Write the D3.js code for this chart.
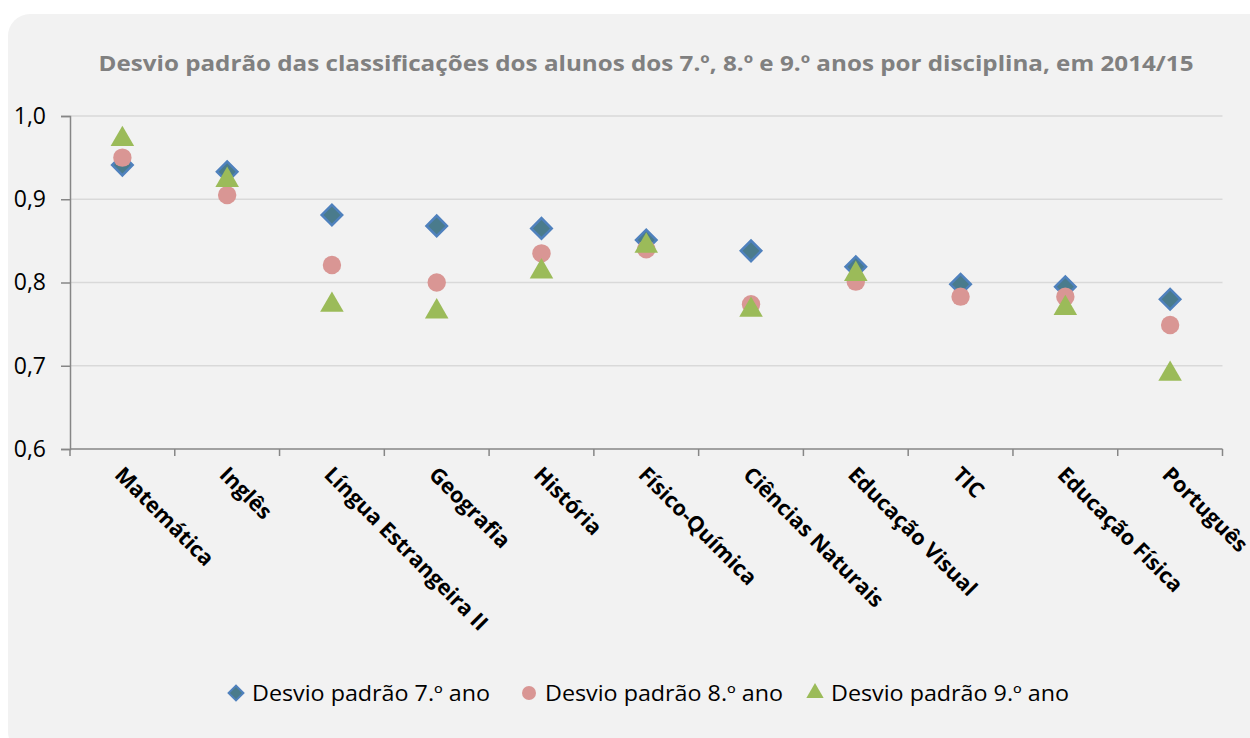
<!DOCTYPE html>
<html><head><meta charset="utf-8">
<script src="https://cdn.jsdelivr.net/npm/d3@7"></script>
<style>html,body{margin:0;padding:0;background:#fff;}svg{display:block;}</style>
</head><body>
<script>
const categories = ["Matemática","Inglês","Língua Estrangeira II","Geografia","História","Físico-Química","Ciências Naturais","Educação Visual","TIC","Educação Física","Português"];
const ano7 = [0.941,0.933,0.881,0.868,0.865,0.851,0.838,0.819,0.798,0.795,0.780];
const ano8 = [0.950,0.905,0.821,0.800,0.835,0.840,0.774,0.801,0.783,0.783,0.749];
const ano9 = [0.972,0.923,0.773,0.765,0.813,0.844,0.767,0.810,null,0.769,0.690];
const seriesNames = ["Desvio padrão 7.º ano","Desvio padrão 8.º ano","Desvio padrão 9.º ano"];
const yTicks = [0.6,0.7,0.8,0.9,1.0];
const title = "Desvio padrão das classificações dos alunos dos 7.º, 8.º e 9.º anos por disciplina, em 2014/15";

const W=1250,H=738;
const svg=d3.select("body").append("svg").attr("width",W).attr("height",H);
svg.append("rect").attr("x",8).attr("y",14).attr("width",1262).attr("height",740).attr("rx",22).attr("fill","#f2f2f2");

const L=70,R=1222.5,T=116,B=449;
const x=d3.scaleBand().domain(categories).range([L,R]);
const y=d3.scaleLinear().domain([0.6,1.0]).range([B,T]);

// gridlines
svg.append("g").selectAll("line").data(yTicks.filter(d=>d>0.6)).join("line")
 .attr("x1",L).attr("x2",R).attr("y1",d=>y(d)).attr("y2",d=>y(d))
 .attr("stroke","#d9d9d9").attr("stroke-width",1.5);

// y axis
const yAx=svg.append("g").attr("transform",`translate(${L},0)`)
 .call(d3.axisLeft(y).tickValues(yTicks).tickSize(9).tickPadding(15).tickFormat(d=>d3.format(".1f")(d).replace(".",",")));
yAx.select(".domain").attr("stroke","#868686").attr("stroke-width",1.5);
yAx.selectAll(".tick line").attr("stroke","#868686").attr("stroke-width",1.5);
yAx.selectAll("text").attr("font-family","Open Sans, sans-serif").attr("font-size",23).attr("fill","#000");

// x axis line + ticks at boundaries
svg.append("line").attr("x1",L).attr("x2",R).attr("y1",B).attr("y2",B).attr("stroke","#868686").attr("stroke-width",1.5);
const bounds=categories.map(c=>x(c)).concat([R]);
svg.append("g").selectAll("line").data(bounds).join("line")
 .attr("x1",d=>d).attr("x2",d=>d).attr("y1",B).attr("y2",B+7).attr("stroke","#868686").attr("stroke-width",1.5);

// x labels
svg.append("g").selectAll("text").data(categories).join("text")
 .attr("transform",c=>`translate(${x(c)+x.bandwidth()/2-9},${B+27}) rotate(45)`)
 .attr("font-family","Open Sans, sans-serif").attr("font-weight","bold").attr("font-size",21.5)
 .attr("fill","#000").text(c=>c);

// markers
const cx=i=>x(categories[i])+x.bandwidth()/2;
const diamond=d3.symbol().type(d3.symbolSquare).size(210);
const tri=d3.symbol().type(d3.symbolTriangle).size(240);
const g=svg.append("g");
g.selectAll(".d7").data(ano7).join("path").attr("class","d7")
 .attr("d",diamond).attr("transform",(d,i)=>`translate(${cx(i)},${y(d)}) rotate(45)`)
 .attr("fill","#4a7b8c").attr("stroke","#4f81bd").attr("stroke-width",2.5);
g.selectAll(".d8").data(ano8).join("circle").attr("class","d8")
 .attr("cx",(d,i)=>cx(i)).attr("cy",d=>y(d)).attr("r",9.2).attr("fill","#d99694");
g.selectAll(".d9").data(ano9.map((v,i)=>({v,i})).filter(d=>d.v!=null)).join("path").attr("class","d9")
 .attr("d",tri).attr("transform",d=>`translate(${cx(d.i)},${y(d.v)})`)
 .attr("fill","#9bbb59");

// title
svg.append("text").attr("x",646).attr("y",71).attr("text-anchor","middle")
 .attr("font-family","Open Sans, sans-serif").attr("font-weight","bold").attr("font-size",22)
 .attr("fill","#808080").attr("textLength",1095).attr("lengthAdjust","spacingAndGlyphs").text(title);

// legend
const leg=[{x:236,t:0},{x:529,t:1},{x:815,t:2}];
const lg=svg.append("g");
leg.forEach(l=>{
  const yy=693;
  if(l.t===0) lg.append("path").attr("d",d3.symbol().type(d3.symbolSquare).size(110)).attr("transform",`translate(${l.x},${yy}) rotate(45)`).attr("fill","#4a7b8c").attr("stroke","#4f81bd").attr("stroke-width",2);
  if(l.t===1) lg.append("circle").attr("cx",l.x).attr("cy",yy).attr("r",7).attr("fill","#d99694");
  if(l.t===2) lg.append("path").attr("d",d3.symbol().type(d3.symbolTriangle).size(130)).attr("transform",`translate(${l.x},${yy})`).attr("fill","#9bbb59");
  lg.append("text").attr("x",l.x+16).attr("y",yy+8).attr("font-family","Open Sans, sans-serif").attr("font-size",21)
   .attr("fill","#000").attr("textLength",238).attr("lengthAdjust","spacingAndGlyphs").text(seriesNames[l.t]);
});
</script>
</body></html>
